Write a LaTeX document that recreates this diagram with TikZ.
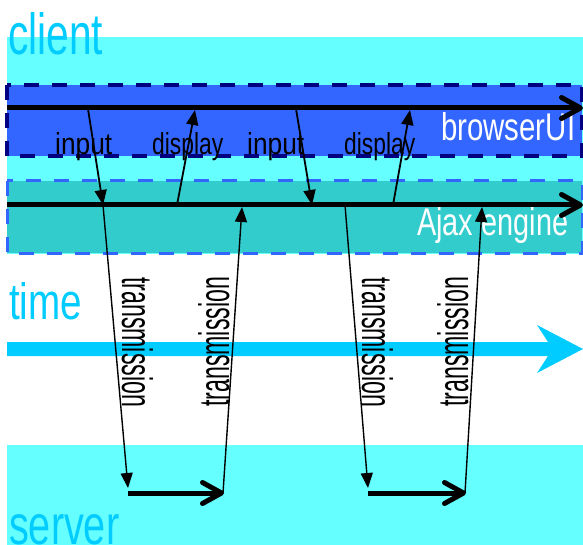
\documentclass[tikz,border=0pt]{standalone}
\usepackage{fontspec}
\setmainfont{Liberation Sans}
\usepackage{graphicx}
\usetikzlibrary{arrows.meta}

\definecolor{lanecyan}{HTML}{66FFFF}
\definecolor{uiblue}{HTML}{3366FF}
\definecolor{uinavy}{HTML}{000080}
\definecolor{ajaxteal}{HTML}{33CCCC}
\definecolor{skyblue}{HTML}{00CCFF}

% text squeezed to a given width and height
\newcommand{\fitword}[3]{\resizebox{#1}{#2}{#3}}

\tikzset{
  lane/.style={fill=lanecyan, draw=none},
  uibox/.style={fill=uiblue, draw=uinavy, line width=4pt, dash pattern=on 15pt off 13pt},
  ajaxbox/.style={fill=ajaxteal, draw=uiblue, line width=3pt, dash pattern=on 15pt off 13pt},
  timeline/.style={line width=5pt, -{Straight Barb[length=19pt,width=21pt,line cap=round,line join=round]}},
  msg/.style={line width=1.8pt, -{Triangle[length=15pt,width=12pt]}},
  wire/.style={line width=1.4pt, -{Triangle[length=15pt,width=12pt]}},
  word/.style={inner sep=0pt, anchor=base west},
  bigword/.style={word, text=skyblue},
  whiteword/.style={word, text=white},
}

\begin{document}
\begin{tikzpicture}[x=1pt, y=-1pt]
\useasboundingbox (0,0) rectangle (583,545);

% swim lanes
\fill[lane] (7,37) rectangle (583,254);
\fill[lane] (7,445) rectangle (583,545);
\draw[uibox] (7,85) rectangle (582,156);
\draw[ajaxbox] (7,181) rectangle (582,253);

% time arrow
\fill[skyblue] (7,342) -- (548,342) -- (537,325) -- (583,349) -- (537,373) -- (548,356) -- (7,356) -- cycle;

% lane titles
\node[bigword] (client) at (8,55) {\fitword{95pt}{42pt}{client}};
\node[bigword] (time) at (9,319) {\fitword{73pt}{37pt}{time}};
\node[bigword] (server) at (9,544) {\fitword{110pt}{30pt}{server}};
\node[whiteword] (ui) at (441,141) {\fitword{134pt}{28pt}{browserUI}};
\node[whiteword] (ajax) at (417,236) {\fitword{151pt}{28pt}{Ajax engine}};

% event labels
\node[word] (in1) at (55,155) {\fitword{57pt}{22pt}{input}};
\node[word] (dp1) at (152,155) {\fitword{71pt}{22pt}{display}};
\node[word] (in2) at (247,155) {\fitword{57pt}{22pt}{input}};
\node[word] (dp2) at (344,155) {\fitword{71pt}{22pt}{display}};

\node[word, rotate=-90] (tx1) at (122,277) {\fitword{130pt}{31pt}{transmission}};
\node[word, rotate=90] (rx1) at (229,407) {\fitword{130pt}{31pt}{transmission}};
\node[word, rotate=-90] (tx2) at (362,277) {\fitword{130pt}{31pt}{transmission}};
\node[word, rotate=90] (rx2) at (468,407) {\fitword{130pt}{31pt}{transmission}};

% timeline end points
\coordinate (uiS) at (7,108);
\coordinate (uiE) at (583,108);
\coordinate (ajS) at (7,205);
\coordinate (ajE) at (583,205);
\coordinate (sv1S) at (128,493);
\coordinate (sv1E) at (224,493);
\coordinate (sv2S) at (368,493);
\coordinate (sv2E) at (466,493);

\draw[timeline] (uiS) -- (uiE);
\draw[timeline] (ajS) -- (ajE);
\draw[timeline] (sv1S) -- (sv1E);
\draw[timeline] (sv2S) -- (sv2E);

% event points
\coordinate (ui1) at (88,109);
\coordinate (aj1) at (103,205);
\coordinate (aj2) at (177,205);
\coordinate (ui2) at (195,110);
\coordinate (ui3) at (296,109);
\coordinate (aj3) at (312,205);
\coordinate (aj4) at (393,205);
\coordinate (ui4) at (410,110);
\coordinate (aj5) at (242,207);
\coordinate (aj6) at (345,205);
\coordinate (aj7) at (482,207);
\coordinate (sv1) at (128,488);
\coordinate (sv2) at (223,493);
\coordinate (sv3) at (368,488);
\coordinate (sv4) at (465,493);

% user interaction
\draw[msg] (ui1) -- (aj1);
\draw[msg] (aj2) -- (ui2);
\draw[msg] (ui3) -- (aj3);
\draw[msg] (aj4) -- (ui4);

% client/server traffic
\draw[wire] (aj1) -- (sv1);
\draw[wire] (sv2) -- (aj5);
\draw[wire] (aj6) -- (sv3);
\draw[wire] (sv4) -- (aj7);
\end{tikzpicture}
\end{document}
